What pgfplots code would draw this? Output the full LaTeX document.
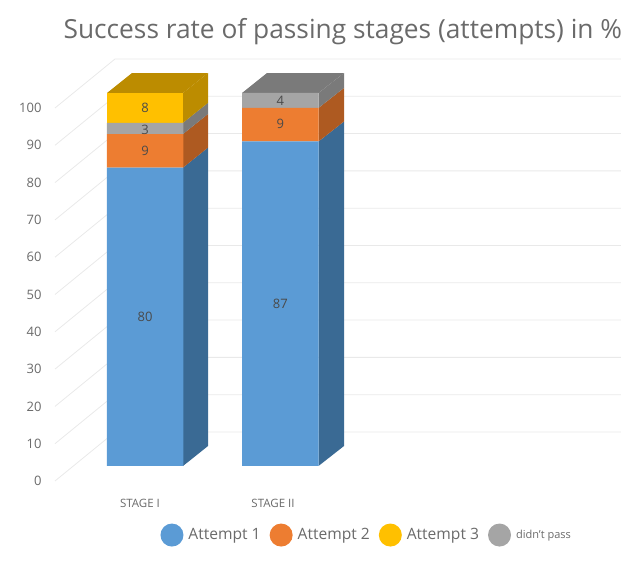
\documentclass[border=0pt]{standalone}
\usepackage{fontspec}
\setmainfont{Open Sans}
\usepackage{pgfplots}
\pgfplotsset{compat=1.18}
\definecolor{cA}{HTML}{5B9BD5}
\definecolor{cAs}{HTML}{3A6A94}
\definecolor{cB}{HTML}{ED7D31}
\definecolor{cBs}{HTML}{AE5A21}
\definecolor{cC}{HTML}{FFC000}
\definecolor{cCs}{HTML}{BC8C00}
\definecolor{cD}{HTML}{A5A5A5}
\definecolor{cDs}{HTML}{7A7A7A}
\definecolor{txt}{HTML}{6A6A6A}
\definecolor{gridc}{HTML}{E9E9E9}
\pgfplotsset{
  base/.style={
    scale only axis, width=578pt, height=450pt,
    xmin=43, xmax=621, ymin=-7.775, ymax=112.87,
  },
}
\begin{document}
\begin{tikzpicture}
\path[use as bounding box] (-43pt,-69pt) rectangle (578pt,495pt);
% walls and depth faces, x in picture units
\begin{axis}[base, hide axis, unbounded coords=jump, clip=false]
  \addplot[gridc, line width=0.8pt] coordinates {
    (55,-4.02) (115,9.12) (621,9.12) (nan,nan)
    (55,5.98) (115,19.12) (621,19.12) (nan,nan)
    (55,15.98) (115,29.12) (621,29.12) (nan,nan)
    (55,25.98) (115,39.12) (621,39.12) (nan,nan)
    (55,35.98) (115,49.12) (621,49.12) (nan,nan)
    (55,45.98) (115,59.12) (621,59.12) (nan,nan)
    (55,55.98) (115,69.12) (621,69.12) (nan,nan)
    (55,65.98) (115,79.12) (621,79.12) (nan,nan)
    (55,75.98) (115,89.12) (621,89.12) (nan,nan)
    (55,85.98) (115,99.12) (621,99.12) (nan,nan)
    (55,95.98) (115,109.12) (621,109.12)
  };
  % stage I side
  \addplot[fill=cAs, draw=none] coordinates {(183,0) (208,5.36) (208,85.36) (183,80)} --cycle;
  \addplot[fill=cBs, draw=none] coordinates {(183,80) (208,85.36) (208,94.36) (183,89)} --cycle;
  \addplot[fill=cDs, draw=none] coordinates {(183,89) (208,94.36) (208,97.36) (183,92)} --cycle;
  \addplot[fill=cCs, draw=none] coordinates {(183,92) (208,97.36) (208,105.36) (183,100)} --cycle;
  \addplot[fill=cCs, draw=none] coordinates {(107,100) (183,100) (208,105.36) (132,105.36)} --cycle;
  % stage II side
  \addplot[fill=cAs, draw=none] coordinates {(318.5,0) (344,5.36) (344,92.36) (318.5,87)} --cycle;
  \addplot[fill=cBs, draw=none] coordinates {(318.5,87) (344,92.36) (344,101.36) (318.5,96)} --cycle;
  \addplot[fill=cDs, draw=none] coordinates {(318.5,96) (344,101.36) (344,105.36) (318.5,100)} --cycle;
  \addplot[fill=cDs, draw=none] coordinates {(242,100) (318.5,100) (344,105.36) (267,105.36)} --cycle;
\end{axis}
% front faces, ticks, title, legend
\begin{axis}[base,
  ybar stacked, bar width=76.5pt,
  axis line style={draw=none}, major tick length=0pt,
  xtick={140,273}, xticklabels={STAGE I,STAGE II},
  ytick={-4.02,5.98,15.98,25.98,35.98,45.98,55.98,65.98,75.98,85.98,95.98},
  yticklabels={0,10,20,30,40,50,60,70,80,90,100},
  tick label style={text=txt},
  yticklabel style={font=\fontsize{13}{15}\selectfont, xshift=2pt},
  xticklabel style={font=\fontsize{11.5}{13}\selectfont, yshift=-1pt},
  title={Success rate of passing stages (attempts) in \%},
  title style={at={(0.0295,1.016)}, anchor=west, text=txt, font=\fontsize{26.3}{30}\selectfont},
  clip=false,
  legend columns=4,
  legend style={at={(0.56,-0.089)}, anchor=center, draw=none, fill=none,
    font=\fontsize{15.6}{18}\selectfont, text=txt,
    /tikz/every odd column/.style={column sep=3pt},
    /tikz/every even column/.style={column sep=7pt}},
  legend image code/.code={\fill[#1] (0.1cm,0cm) circle (11.5pt);},
  legend entries={Attempt 1,Attempt 2,Attempt 3,{\fontsize{11}{12}\selectfont didn't pass}},
]
  \addlegendimage{fill=cA, draw=none}
  \addlegendimage{fill=cB, draw=none}
  \addlegendimage{fill=cC, draw=none}
  \addlegendimage{fill=cD, draw=none}
  \addplot[fill=cA, draw=none, forget plot] coordinates {(145,80) (280.25,87)};
  \addplot[fill=cB, draw=none, forget plot] coordinates {(145,9) (280.25,9)};
  \addplot[fill=cD, draw=none, forget plot] coordinates {(145,3) (280.25,4)};
  \addplot[fill=cC, draw=none, forget plot] coordinates {(145,8)};
\end{axis}
% data labels, at the middle of each segment
\begin{axis}[base, hide axis, clip=false]
  \addplot[draw=none, mark=none, point meta=explicit symbolic, nodes near coords,
    every node near coord/.style={anchor=center, text=txt!70!black,
      font=\fontsize{13}{15}\selectfont}]
    table[x=x, y=y, meta=v] {
    x y v
    145 40 80
    145 84.5 9
    145 90.2 3
    145 96 8
    280.25 43.5 87
    280.25 91.7 9
    280.25 97.8 4
  };
\end{axis}
\end{tikzpicture}
\end{document}
